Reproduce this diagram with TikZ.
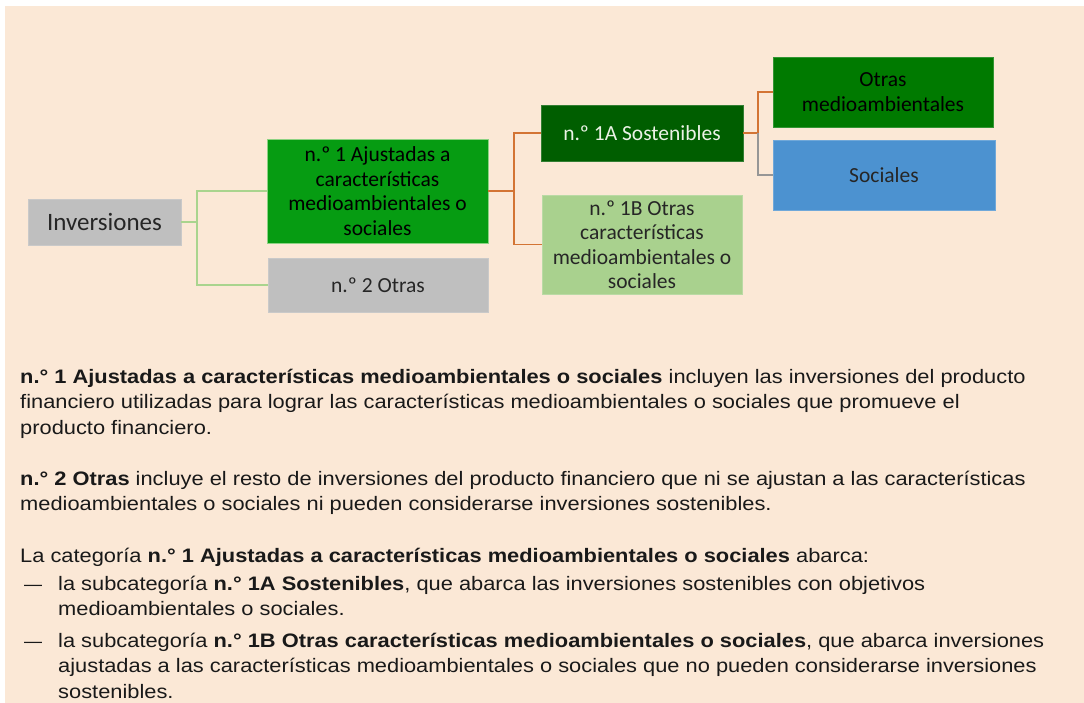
\documentclass[tikz,border=0pt]{standalone}
\usepackage{fontspec}
\setmainfont{Liberation Sans}
\newfontfamily\bodyfont[FakeStretch=1.12]{Liberation Sans}
\newfontfamily\carl{Carlito}
\definecolor{bgpeach}{RGB}{251,232,214}
\definecolor{boxgray}{RGB}{191,191,191}
\definecolor{greenone}{RGB}{6,156,18}
\definecolor{darkgreen}{RGB}{0,94,0}
\definecolor{lightgreen}{RGB}{169,209,142}
\definecolor{midgreen}{RGB}{0,122,0}
\definecolor{socblue}{RGB}{76,146,208}
\definecolor{lineorange}{RGB}{211,116,52}
\definecolor{linegreen}{RGB}{169,212,142}
\definecolor{linegray}{RGB}{150,150,150}
\definecolor{textwhite}{RGB}{235,242,230}
\definecolor{n1border}{RGB}{140,210,130}
\tikzset{
  box/.style={rectangle, inner sep=0pt, align=center, line width=0.8pt,
    font=\carl\fontsize{21.5}{24.5}\selectfont},
  conn/.style={line width=1.5pt},
  body/.style={anchor=base west, align=left, inner sep=0pt, text=black!90,
    font=\bodyfont\fontsize{19.5}{25.5}\selectfont},
  dashmark/.style={anchor=base west, inner sep=0pt, text=black!90,
    font=\fontsize{18}{20}\selectfont}
}
\begin{document}
\begin{tikzpicture}[x=1pt,y=-1pt]
\useasboundingbox (0,0) rectangle (1084,703);
\fill[white] (0,0) rectangle (1084,703);
\fill[bgpeach] (5,6) rectangle (1084,703);

% boxes
\node[box, fill=boxgray, draw=boxgray!85!white, minimum width=153pt, minimum height=46pt,
  font=\carl\fontsize{25}{28}\selectfont, text=black!85] (inv) at (104.5,222) {Inversiones};
\node[box, fill=greenone, draw=n1border, minimum width=221pt, minimum height=104pt] (n1) at (377.5,191)
  {n.º 1 Ajustadas a\\características\\medioambientales o\\sociales};
\node[box, fill=boxgray, draw=boxgray!85!white, minimum width=220pt, minimum height=54pt, text=black!85] (n2) at (378,285) {n.º 2 Otras};
\node[box, fill=darkgreen, draw=darkgreen!80!white, minimum width=202pt, minimum height=56pt, text=textwhite] (a1) at (642,133) {n.º 1A Sostenibles};
\node[box, fill=lightgreen, draw=lightgreen!80!white, minimum width=200pt, minimum height=99pt, text=black!85] (b1) at (642,244.5)
  {n.º 1B Otras\\características\\medioambientales o\\sociales};
\node[box, fill=midgreen, draw=midgreen!80!white, minimum width=220pt, minimum height=70pt] (om) at (883,92) {Otras\\medioambientales};
\node[box, fill=socblue, draw=socblue!80!white, minimum width=222pt, minimum height=70pt, text=black!85] (soc) at (884,175) {Sociales};

% connectors
\coordinate (j1) at (197,222);
\coordinate (j2) at (514,191);
\coordinate (j3) at (758,133);
\draw[conn, linegreen] (inv.east) -- (j1) |- (n1.west);
\draw[conn, linegreen] (j1) |- (n2.west);
\draw[conn, lineorange] (n1.east) -- (j2) |- (a1.west);
\draw[conn, lineorange] (j2) |- (b1.west);
\draw[conn, lineorange] (a1.east) -- (j3) |- (om.west);
\draw[conn, linegray] (j3) |- (soc.west);

% body text (anchored at the baseline of each block's last line)
\node[body] (p1) at (20,434) {\textbf{n.° 1 Ajustadas a características medioambientales o sociales} incluyen las inversiones del producto\\
financiero utilizadas para lograr las características medioambientales o sociales que promueve el\\
producto financiero.};
\node[body] (p2) at (20,510.5) {\textbf{n.° 2 Otras} incluye el resto de inversiones del producto financiero que ni se ajustan a las características\\
medioambientales o sociales ni pueden considerarse inversiones sostenibles.};
\node[body] (p3) at (20,562) {La categoría \textbf{n.° 1 Ajustadas a características medioambientales o sociales} abarca:};
\node[dashmark] (d1) at (24,590) {—};
\node[body] (i1) at (58,615.5) {la subcategoría \textbf{n.° 1A Sostenibles}, que abarca las inversiones sostenibles con objetivos\\
medioambientales o sociales.};
\node[dashmark] (d2) at (24,647) {—};
\node[body] (i2) at (58,698) {la subcategoría \textbf{n.° 1B Otras características medioambientales o sociales}, que abarca inversiones\\
ajustadas a las características medioambientales o sociales que no pueden considerarse inversiones\\
sostenibles.};
\end{tikzpicture}
\end{document}
